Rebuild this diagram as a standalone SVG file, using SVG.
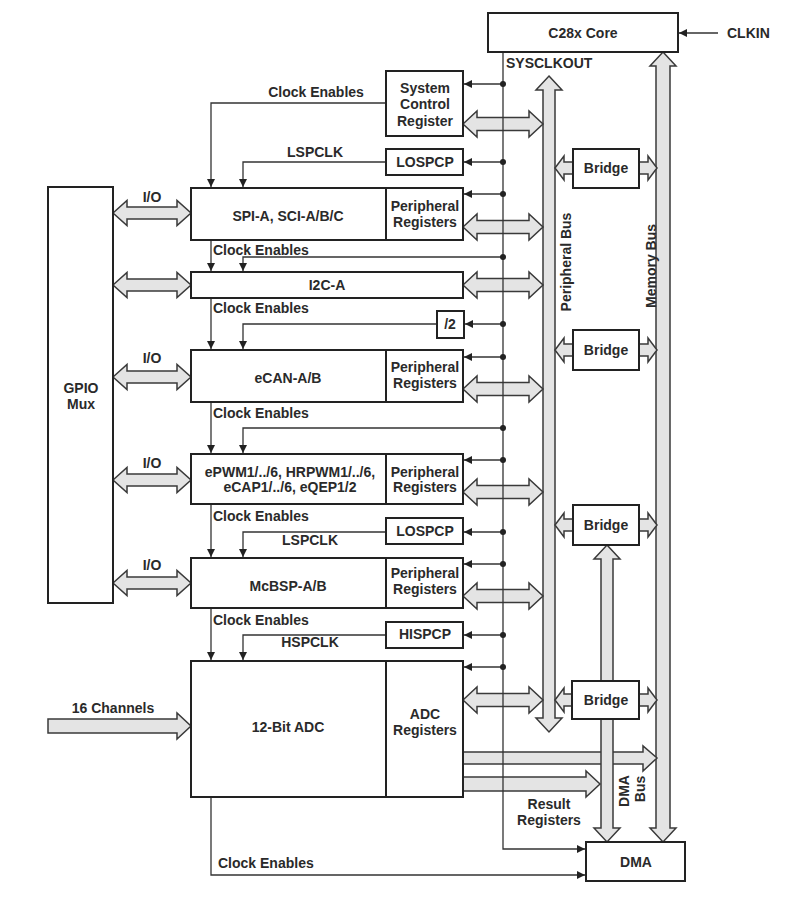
<svg xmlns="http://www.w3.org/2000/svg" width="801" height="911" viewBox="0 0 801 911">
<style>
  text { font-family: "Liberation Sans", Arial, sans-serif; font-weight: bold; font-size: 14px; fill: #2a2a2a; }
  .c { text-anchor: middle; }
  .box { fill: #fff; stroke: #222; stroke-width: 2; }
  .div { stroke: #222; stroke-width: 2; }
  .bus { fill: #e4e4e4; stroke: #3a3a3a; stroke-width: 1.5; stroke-linejoin: miter; }
  .ln { fill: none; stroke: #333; stroke-width: 1.3; }
  .arr { marker-end: url(#ah); }
  .dot { fill: #222; }
</style>
<defs>
  <marker id="ah" viewBox="0 0 8 8" refX="8" refY="4" markerWidth="8" markerHeight="8" markerUnits="userSpaceOnUse" orient="auto">
    <path d="M0,0 L8,4 L0,8 z" fill="#222"/>
  </marker>
</defs>
<rect width="801" height="911" fill="#fff"/>

<g id="connectors">
  <!-- vertical buses -->
  <path class="bus" d="M549,76 L562,90 L555,90 L555,718 L562,718 L549,732 L536,718 L543,718 L543,90 L536,90 Z"/>
  <path class="bus" d="M663,52 L676,66 L670,66 L670,828 L676,828 L663,842 L650,828 L656,828 L656,66 L650,66 Z"/>
  <!-- ADC output arrows -->
  <path class="bus" d="M463,752 L643,752 L643,746 L657,758 L643,771 L643,764 L463,764 Z"/>
  <path class="bus" d="M463,777 L586,777 L586,771 L600,784 L586,797 L586,791 L463,791 Z"/>
  <path class="bus" d="M607,545 L620,559 L613,559 L613,828 L620,828 L607,842 L594,828 L601,828 L601,559 L594,559 Z"/>
  <!-- peripheral to bus double arrows -->
  <path class="bus" d="M463,124 L477,111 L477,117.5 L529,117.5 L529,111 L543,124 L529,137 L529,130.5 L477,130.5 L477,137 Z"/>
  <path class="bus" d="M463,227 L477,214 L477,220.5 L529,220.5 L529,214 L543,227 L529,240 L529,233.5 L477,233.5 L477,240 Z"/>
  <path class="bus" d="M463,285 L477,272 L477,278.5 L529,278.5 L529,272 L543,285 L529,298 L529,291.5 L477,291.5 L477,298 Z"/>
  <path class="bus" d="M463,389 L477,376 L477,382.5 L529,382.5 L529,376 L543,389 L529,402 L529,395.5 L477,395.5 L477,402 Z"/>
  <path class="bus" d="M463,492 L477,479 L477,485.5 L529,485.5 L529,479 L543,492 L529,505 L529,498.5 L477,498.5 L477,505 Z"/>
  <path class="bus" d="M463,596 L477,583 L477,589.5 L529,589.5 L529,583 L543,596 L529,609 L529,602.5 L477,602.5 L477,609 Z"/>
  <path class="bus" d="M463,700 L477,687 L477,693.5 L529,693.5 L529,687 L543,700 L529,713 L529,706.5 L477,706.5 L477,713 Z"/>
  <!-- I/O arrows -->
  <path class="bus" d="M113,213 L127,200.5 L127,207 L177,207 L177,200.5 L191,213 L177,225.5 L177,219 L127,219 L127,225.5 Z"/>
  <path class="bus" d="M113,285 L127,272.5 L127,279 L177,279 L177,272.5 L191,285 L177,297.5 L177,291 L127,291 L127,297.5 Z"/>
  <path class="bus" d="M113,377 L127,364.5 L127,371 L177,371 L177,364.5 L191,377 L177,389.5 L177,383 L127,383 L127,389.5 Z"/>
  <path class="bus" d="M113,480 L127,467.5 L127,474 L177,474 L177,467.5 L191,480 L177,492.5 L177,486 L127,486 L127,492.5 Z"/>
  <path class="bus" d="M113,583 L127,570.5 L127,577 L177,577 L177,570.5 L191,583 L177,595.5 L177,589 L127,589 L127,595.5 Z"/>
  <!-- 16 channels -->
  <path class="bus" d="M48,719 L177,719 L177,713 L191,726 L177,739 L177,733 L48,733 Z"/>
  <!-- bridge arrows -->
  <path class="bus" d="M555,168 L564,156 L564,162 L573,162 L573,174 L564,174 L564,180 Z"/>
  <path class="bus" d="M657,168 L648,156 L648,162 L639,162 L639,174 L648,174 L648,180 Z"/>
  <path class="bus" d="M555,350 L564,338 L564,344 L573,344 L573,356 L564,356 L564,362 Z"/>
  <path class="bus" d="M657,350 L648,338 L648,344 L639,344 L639,356 L648,356 L648,362 Z"/>
  <path class="bus" d="M555,525 L564,513 L564,519 L573,519 L573,531 L564,531 L564,537 Z"/>
  <path class="bus" d="M657,525 L648,513 L648,519 L639,519 L639,531 L648,531 L648,537 Z"/>
  <path class="bus" d="M555,700 L564,688 L564,694 L572,694 L572,706 L564,706 L564,712 Z"/>
  <path class="bus" d="M657,700 L648,688 L648,694 L639,694 L639,706 L648,706 L648,712 Z"/>

  <!-- CLKIN -->
  <path class="ln arr" d="M718,33 L679,33"/>
  <!-- SYSCLKOUT trunk -->
  <path class="ln arr" d="M503,52 L503,849 L585,849"/>
  <path class="ln arr" d="M503,84 L464,84"/>
  <path class="ln arr" d="M503,162 L464,162"/>
  <path class="ln arr" d="M503,194 L464,194"/>
  <path class="ln arr" d="M503,257 L243,257 L243,271"/>
  <path class="ln arr" d="M503,324 L465,324"/>
  <path class="ln arr" d="M503,357 L464,357"/>
  <path class="ln arr" d="M503,428 L243,428 L243,453"/>
  <path class="ln arr" d="M503,460 L464,460"/>
  <path class="ln arr" d="M503,532 L464,532"/>
  <path class="ln arr" d="M503,564 L464,564"/>
  <path class="ln arr" d="M503,635 L464,635"/>
  <path class="ln arr" d="M503,667 L464,667"/>
  <circle class="dot" cx="503" cy="84" r="3"/>
  <circle class="dot" cx="503" cy="162" r="3"/>
  <circle class="dot" cx="503" cy="194" r="3"/>
  <circle class="dot" cx="503" cy="257" r="3"/>
  <circle class="dot" cx="503" cy="324" r="3"/>
  <circle class="dot" cx="503" cy="357" r="3"/>
  <circle class="dot" cx="503" cy="428" r="3"/>
  <circle class="dot" cx="503" cy="460" r="3"/>
  <circle class="dot" cx="503" cy="532" r="3"/>
  <circle class="dot" cx="503" cy="564" r="3"/>
  <circle class="dot" cx="503" cy="635" r="3"/>
  <circle class="dot" cx="503" cy="667" r="3"/>
  <!-- clock enables / peripheral clocks -->
  <path class="ln arr" d="M386,103 L211,103 L211,187"/>
  <path class="ln arr" d="M386,162 L243,162 L243,187"/>
  <path class="ln arr" d="M211,240 L211,271"/>
  <path class="ln arr" d="M211,298 L211,349"/>
  <path class="ln arr" d="M437,324 L243,324 L243,349"/>
  <path class="ln arr" d="M211,402 L211,453"/>
  <path class="ln arr" d="M211,504 L211,557"/>
  <path class="ln arr" d="M386,532 L243,532 L243,557"/>
  <path class="ln arr" d="M211,608 L211,660"/>
  <path class="ln arr" d="M386,635 L243,635 L243,660"/>
  <path class="ln arr" d="M211,797 L211,875 L585,875"/>

  <text x="727" y="38">CLKIN</text>
  <text x="506" y="68">SYSCLKOUT</text>
  <text class="c" x="316" y="97">Clock Enables</text>
  <text class="c" x="315" y="157">LSPCLK</text>
  <text x="152" y="202" class="c">I/O</text>
  <text x="213" y="255">Clock Enables</text>
  <text x="213" y="313">Clock Enables</text>
  <text x="152" y="363" class="c">I/O</text>
  <text x="213" y="418">Clock Enables</text>
  <text x="152" y="468" class="c">I/O</text>
  <text x="213" y="521">Clock Enables</text>
  <text class="c" x="310" y="545">LSPCLK</text>
  <text x="152" y="570" class="c">I/O</text>
  <text x="213" y="625">Clock Enables</text>
  <text class="c" x="310" y="647">HSPCLK</text>
  <text class="c" x="113" y="713">16 Channels</text>
  <text class="c" x="549" y="809">Result</text>
  <text class="c" x="549" y="825">Registers</text>
  <text x="218" y="868">Clock Enables</text>
  <text class="c" transform="translate(571,262) rotate(-90)">Peripheral Bus</text>
  <text class="c" transform="translate(656,266) rotate(-90)">Memory Bus</text>
  <text class="c" transform="translate(629,791) rotate(-90)">DMA</text>
  <text class="c" transform="translate(645,789) rotate(-90)">Bus</text>
</g>

<g id="core"><rect class="box" x="488" y="13" width="190" height="39"/><text class="c" x="583" y="38">C28x Core</text></g>
<g id="sysctrl"><rect class="box" x="386" y="71" width="77" height="65"/><text class="c" x="425" y="93">System</text><text class="c" x="425" y="109">Control</text><text class="c" x="425" y="126">Register</text></g>
<g id="lospcp1"><rect class="box" x="386" y="149" width="77" height="26"/><text class="c" x="425" y="167">LOSPCP</text></g>
<g id="bridge1"><rect class="box" x="573" y="149" width="66" height="39"/><text class="c" x="606" y="173">Bridge</text></g>
<g id="gpio"><rect class="box" x="48" y="187" width="65" height="416"/><text class="c" x="81" y="393">GPIO</text><text class="c" x="81" y="409">Mux</text></g>
<g id="spi"><rect class="box" x="191" y="188" width="272" height="52"/><line class="div" x1="386" y1="188" x2="386" y2="240"/><text class="c" x="288" y="221">SPI-A, SCI-A/B/C</text><text class="c" x="425" y="211">Peripheral</text><text class="c" x="425" y="227">Registers</text></g>
<g id="i2c"><rect class="box" x="191" y="272" width="272" height="26"/><text class="c" x="327" y="290">I2C-A</text></g>
<g id="div2"><rect class="box" x="437" y="311" width="27" height="27"/><text class="c" x="450" y="329">/2</text></g>
<g id="bridge2"><rect class="box" x="573" y="330" width="66" height="40"/><text class="c" x="606" y="355">Bridge</text></g>
<g id="ecan"><rect class="box" x="191" y="350" width="272" height="52"/><line class="div" x1="386" y1="350" x2="386" y2="402"/><text class="c" x="288" y="383">eCAN-A/B</text><text class="c" x="425" y="372">Peripheral</text><text class="c" x="425" y="388">Registers</text></g>
<g id="epwm"><rect class="box" x="191" y="454" width="272" height="50"/><line class="div" x1="386" y1="454" x2="386" y2="504"/><text class="c" x="290" y="477">ePWM1/../6, HRPWM1/../6,</text><text class="c" x="290" y="492">eCAP1/../6, eQEP1/2</text><text class="c" x="425" y="477">Peripheral</text><text class="c" x="425" y="492">Registers</text></g>
<g id="lospcp2"><rect class="box" x="386" y="518" width="77" height="26"/><text class="c" x="425" y="536">LOSPCP</text></g>
<g id="bridge3"><rect class="box" x="573" y="505" width="66" height="40"/><text class="c" x="606" y="530">Bridge</text></g>
<g id="mcbsp"><rect class="box" x="191" y="558" width="272" height="50"/><line class="div" x1="386" y1="558" x2="386" y2="608"/><text class="c" x="288" y="591">McBSP-A/B</text><text class="c" x="425" y="578">Peripheral</text><text class="c" x="425" y="594">Registers</text></g>
<g id="hispcp"><rect class="box" x="386" y="622" width="77" height="26"/><text class="c" x="425" y="639">HISPCP</text></g>
<g id="adc"><rect class="box" x="191" y="661" width="272" height="136"/><line class="div" x1="386" y1="661" x2="386" y2="797"/><text class="c" x="288" y="732">12-Bit ADC</text><text class="c" x="425" y="719">ADC</text><text class="c" x="425" y="735">Registers</text></g>
<g id="bridge4"><rect class="box" x="572" y="681" width="67" height="38"/><text class="c" x="606" y="705">Bridge</text></g>
<g id="dma"><rect class="box" x="586" y="842" width="99" height="39"/><text class="c" x="636" y="867">DMA</text></g>
</svg>
